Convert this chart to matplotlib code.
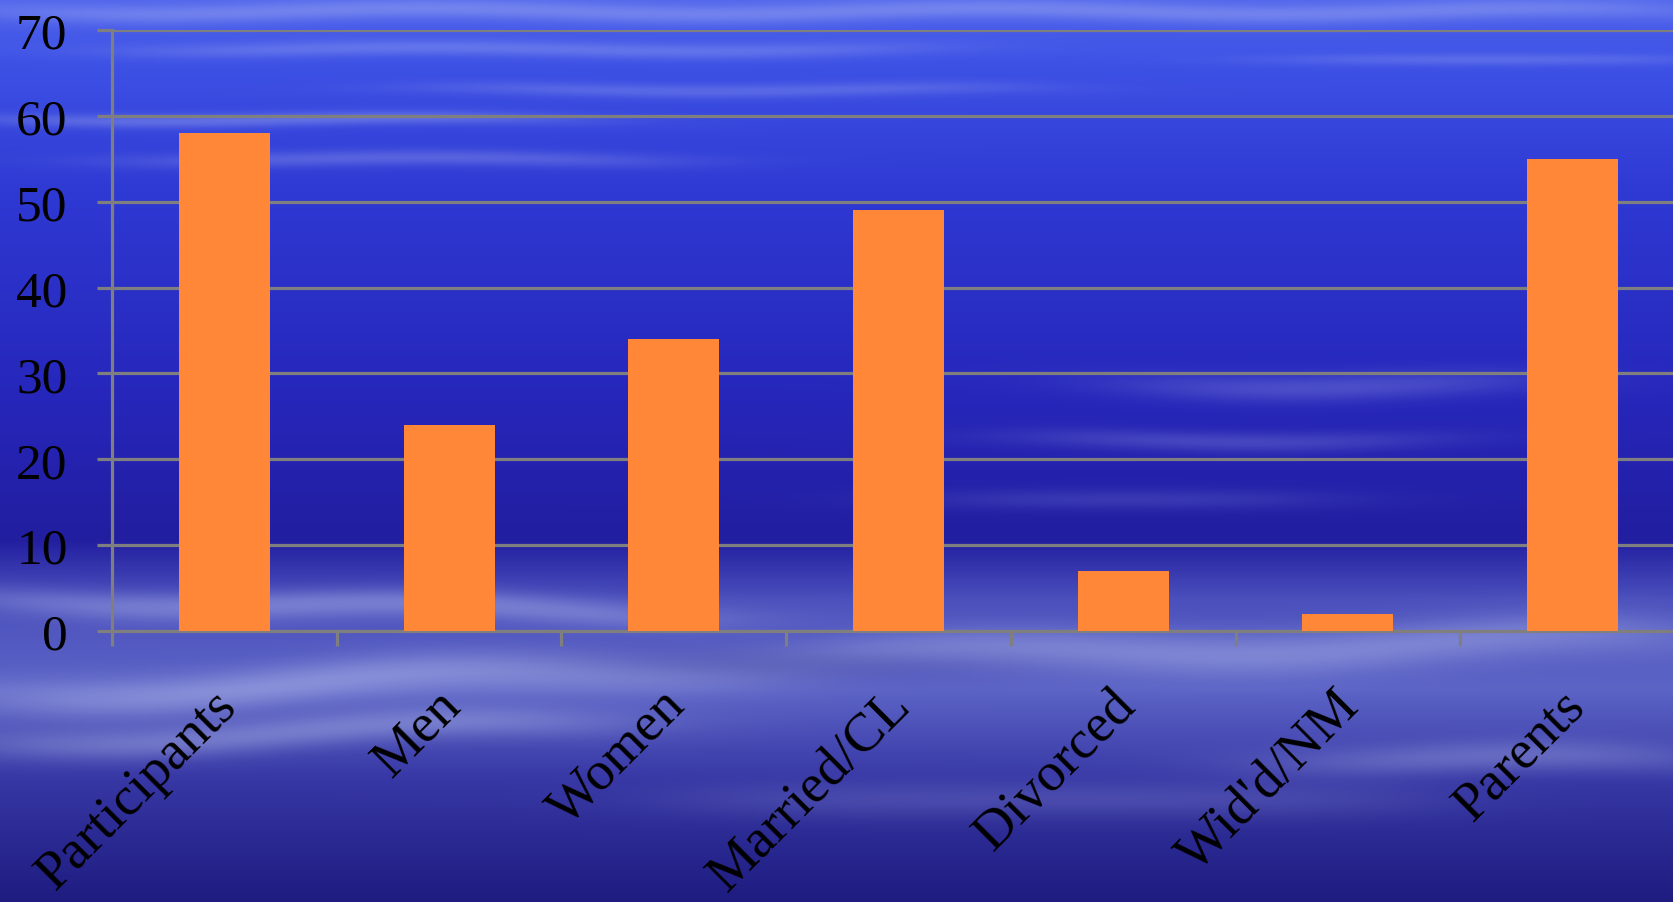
import numpy as np
import matplotlib
matplotlib.use("Agg")
import matplotlib.pyplot as plt
from matplotlib.transforms import ScaledTranslation

categories = ["Participants", "Men", "Women", "Married/CL", "Divorced", "Wid'd/NM", "Parents"]
values = [58, 24, 34, 49, 7, 2, 55]
yticks = [0, 10, 20, 30, 40, 50, 60, 70]

W, H = 1674, 903
fig = plt.figure(figsize=(W / 100, H / 100), dpi=100)

# ---- decorative sky/cloud background (deterministic) ----
yy, xx = np.mgrid[0:H, 0:W].astype(float)
stops_y = [0, 60, 200, 400, 540, 600, 690, 780, 903]
stops_c = np.array([
    [80, 100, 236],
    [62, 82, 230],
    [46, 56, 210],
    [38, 38, 186],
    [34, 30, 160],
    [75, 80, 188],
    [92, 100, 198],
    [55, 55, 165],
    [30, 28, 128],
], float)
img = np.zeros((H, W, 3))
for k in range(3):
    img[..., k] = np.interp(yy, stops_y, stops_c[:, k])

def streak(yc, w, x0, x1, amp, slope=0.0, wave=0.0):
    yline = yc + slope * (xx - x0) + wave * np.sin(xx / 90.0)
    vert = np.exp(-((yy - yline) / w) ** 2)
    horiz = 1 / (1 + np.exp(-(xx - x0) / 60)) * 1 / (1 + np.exp((xx - x1) / 60))
    return amp * vert * horiz

cloud = np.zeros((H, W))
# top thin streaks
cloud += streak(12, 10, 0, 1674, 0.30, wave=3)
cloud += streak(50, 8, 150, 900, 0.25, wave=2)
cloud += streak(90, 7, 450, 1000, 0.22, wave=2)
cloud += streak(120, 7, 0, 550, 0.30, wave=2)
cloud += streak(160, 8, 150, 650, 0.25, wave=2)
cloud += streak(60, 6, 1300, 1674, 0.22)
# mid-right streaks
cloud += streak(385, 14, 1150, 1500, 0.25, wave=4)
cloud += streak(440, 10, 1050, 1400, 0.22, wave=3)
cloud += streak(500, 10, 950, 1300, 0.15)
# bottom cloud band
cloud += streak(600, 14, 0, 700, 0.35, slope=0.02, wave=5)
cloud += streak(660, 22, 900, 1674, 0.35, slope=-0.03, wave=6)
cloud += streak(700, 20, 0, 900, 0.40, slope=-0.05, wave=6)
cloud += streak(745, 16, 0, 600, 0.35, slope=-0.04, wave=5)
cloud += streak(760, 16, 1300, 1674, 0.30, wave=4)
cloud += streak(800, 18, 700, 1400, 0.15)
cloud = np.clip(cloud, 0, 0.6)
white = np.array([200, 210, 245], float)
img = img * (1 - cloud[..., None]) + white * cloud[..., None]
# dark patch below axis
dark = np.exp(-(((xx - 780) / 220) ** 2 + ((yy - 665) / 18) ** 2)) * 0.35
img = img * (1 - dark[..., None]) + np.array([30, 28, 140.0]) * dark[..., None]
img = np.clip(img, 0, 255).astype(np.uint8)

bgax = fig.add_axes([0, 0, 1, 1], zorder=-10)
bgax.imshow(img, aspect="auto", interpolation="bilinear")
bgax.set_axis_off()

# ---- main chart ----
left = 112 / W
right = 1685 / W
bottom = (H - 632) / H
top = (H - 31) / H
ax = fig.add_axes([left, bottom, right - left, top - bottom])
ax.patch.set_alpha(0)

x = np.arange(len(categories))
ax.bar(x, values, width=0.405, color="#FF8737", zorder=3)
ax.set_xlim(-0.5, len(categories) - 0.5)
ax.set_ylim(0, 70)
ax.set_axisbelow(True)

grey = "#7F7F7F"
ax.set_yticks(yticks)
ax.yaxis.grid(True, color=grey, linewidth=2.3)
for s in ["top", "right"]:
    ax.spines[s].set_visible(False)
for s in ["left", "bottom"]:
    ax.spines[s].set_color(grey)
    ax.spines[s].set_linewidth(2.3)

ax.set_xticks(np.arange(len(categories) + 1) - 0.5)
ax.set_xticklabels([])
ax.set_xticks(x, minor=True)
ax.set_xticklabels(categories, minor=True, rotation=45, ha="right",
                   rotation_mode="default")
ax.tick_params(axis="x", which="major", length=11, width=2.3, color=grey,
               direction="out")
ax.tick_params(axis="x", which="minor", length=0, pad=35)
ax.tick_params(axis="y", length=11, width=2.3, color=grey, direction="out",
               pad=21)

font = "Liberation Serif"
for lab in ax.get_yticklabels():
    lab.set_fontfamily(font)
    lab.set_fontsize(37)
    lab.set_color("black")
off = ScaledTranslation(22 / 100, 0, fig.dpi_scale_trans)
for lab in ax.get_xticklabels(minor=True):
    lab.set_fontfamily(font)
    lab.set_fontsize(39.5)
    lab.set_color("black")
    lab.set_transform(lab.get_transform() + off)

fig.savefig("out.png", dpi=100)
